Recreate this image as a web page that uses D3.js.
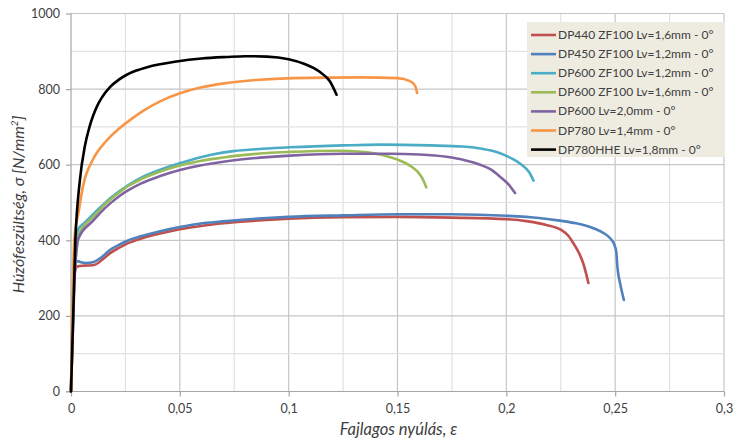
<!DOCTYPE html>
<html>
<head>
<meta charset="utf-8">
<script src="https://cdn.jsdelivr.net/npm/d3@7/dist/d3.min.js"></script>
<style>
  html, body { margin: 0; padding: 0; background: #ffffff; }
  svg { display: block; }
  text { font-family: Lato, "Open Sans", sans-serif; }
</style>
</head>
<body>
<svg id="chart" width="734" height="441"></svg>
<script>
// Tensile test curves: engineering strain vs. stress [N/mm²]
const seriesNames = [
  "DP440 ZF100 Lv=1,6mm - 0°",
  "DP450 ZF100 Lv=1,2mm - 0°",
  "DP600 ZF100 Lv=1,2mm - 0°",
  "DP600 ZF100 Lv=1,6mm - 0°",
  "DP600 Lv=2,0mm - 0°",
  "DP780 Lv=1,4mm - 0°",
  "DP780HHE Lv=1,8mm - 0°"
];
const seriesColors = ["#c0504d", "#4f81bd", "#4bacc6", "#9bbb59", "#8064a2", "#f79646", "#000000"];

const dp440Strain = [0, 0.0015, 0.003, 0.006, 0.010, 0.0125, 0.015, 0.018, 0.022, 0.026, 0.033, 0.041, 0.050, 0.059, 0.070, 0.080, 0.090, 0.100, 0.125, 0.150, 0.175, 0.200, 0.210, 0.218, 0.225, 0.2285, 0.2307, 0.2335, 0.2354, 0.2377];
const dp440Stress = [0, 310, 331, 333, 334, 340, 352, 366, 380, 392, 406, 418, 429, 437, 445, 450, 454, 457, 461, 462, 460, 456, 450, 441, 428, 412, 393, 365, 338, 287];

const dp450Strain = [0, 0.0015, 0.003, 0.0045, 0.007, 0.010, 0.0125, 0.015, 0.018, 0.022, 0.026, 0.033, 0.041, 0.050, 0.059, 0.070, 0.080, 0.090, 0.100, 0.125, 0.150, 0.175, 0.200, 0.215, 0.2246, 0.232, 0.240, 0.245, 0.2476, 0.2495, 0.2505, 0.2510, 0.2525, 0.254];
const dp450Stress = [0, 320, 345, 342, 340, 342, 349, 360, 375, 388, 399, 412, 424, 435, 444, 450, 455, 459, 462, 466, 469, 469, 465, 459, 452, 445, 432, 418, 406, 390, 370, 331, 280, 242];

const dp600aStrain = [0, 0.0015, 0.0034, 0.0064, 0.010, 0.014, 0.018, 0.022, 0.026, 0.032, 0.041, 0.0547, 0.065, 0.0746, 0.088, 0.1006, 0.125, 0.142, 0.165, 0.180, 0.188, 0.194, 0.199, 0.203, 0.207, 0.2105, 0.2125];
const dp600aStress = [0, 300, 430, 447, 468, 490, 511, 529, 545, 565, 587, 612, 627, 636, 642, 646, 651, 653, 651, 648, 643, 636, 626, 615, 600, 580, 558];

const dp600bStrain = [0, 0.0015, 0.004, 0.0102, 0.014, 0.0179, 0.022, 0.0256, 0.032, 0.041, 0.050, 0.0593, 0.070, 0.080, 0.090, 0.1006, 0.1236, 0.132, 0.137, 0.142, 0.147, 0.151, 0.155, 0.159, 0.1615, 0.1632];
const dp600bStress = [0, 300, 420, 462, 486, 507, 526, 541, 561, 582, 598, 610, 619, 626, 631, 634, 637, 635, 632, 627, 619, 611, 600, 583, 563, 540];

const dp600cStrain = [0, 0.0015, 0.0034, 0.0102, 0.014, 0.0179, 0.022, 0.0256, 0.032, 0.041, 0.050, 0.0593, 0.070, 0.080, 0.090, 0.1006, 0.125, 0.1466, 0.160, 0.1725, 0.181, 0.188, 0.193, 0.197, 0.201, 0.204];
const dp600cStress = [0, 280, 405, 452, 476, 497, 516, 530, 550, 570, 586, 598, 608, 615, 620, 624, 629, 629, 627, 621, 612, 600, 587, 569, 548, 525];

const dp780Strain = [0, 0.0015, 0.0034, 0.0057, 0.0102, 0.0164, 0.022, 0.028, 0.0333, 0.040, 0.050, 0.060, 0.0715, 0.085, 0.102, 0.133, 0.150, 0.1557, 0.158, 0.159];
const dp780Stress = [0, 400, 472, 548, 615, 664, 695, 722, 743, 765, 789, 805, 816, 824, 829, 831, 829, 821, 810, 790];

const dp780hheStrain = [0, 0.002, 0.0041, 0.0064, 0.0085, 0.0102, 0.012, 0.014, 0.0179, 0.022, 0.0256, 0.030, 0.035, 0.0485, 0.060, 0.0715, 0.080, 0.090, 0.100, 0.107, 0.1144, 0.119, 0.122];
const dp780hheStress = [0, 400, 560, 650, 700, 730, 755, 776, 805, 825, 838, 849, 858, 873, 881, 885, 887, 886, 879, 867, 845, 820, 785];

const strainSeries = [dp440Strain, dp450Strain, dp600aStrain, dp600bStrain, dp600cStrain, dp780Strain, dp780hheStrain];
const stressSeries = [dp440Stress, dp450Stress, dp600aStress, dp600bStress, dp600cStress, dp780Stress, dp780hheStress];

const xTickValues = [0, 0.05, 0.1, 0.15, 0.2, 0.25, 0.3];
const xTickLabels = ["0", "0,05", "0,1", "0,15", "0,2", "0,25", "0,3"];
const yTickValues = [0, 200, 400, 600, 800, 1000];

const xTitle = "Fajlagos nyúlás, ε";

// layout
const plot = { left: 71, right: 724, top: 13.5, bottom: 391.5 };

const svg = d3.select("#chart");
const x = d3.scaleLinear().domain([0, 0.3]).range([plot.left, plot.right]);
const y = d3.scaleLinear().domain([0, 1000]).range([plot.bottom, plot.top]);

// gridlines: minor every 0.025 / 100, major every 0.05 / 200
const grid = svg.append("g");
d3.range(0, 0.3001, 0.025).forEach((v, i) => {
  if (i === 0) return;
  grid.append("line")
    .attr("x1", x(v)).attr("x2", x(v))
    .attr("y1", plot.top).attr("y2", plot.bottom)
    .attr("stroke", i % 2 === 0 ? "#c6c6c6" : "#e2e2e2")
    .attr("stroke-width", 1.2);
});
d3.range(0, 1000.1, 100).forEach((v, i) => {
  if (i === 0) return;
  grid.append("line")
    .attr("x1", plot.left).attr("x2", plot.right)
    .attr("y1", y(v)).attr("y2", y(v))
    .attr("stroke", i % 2 === 0 ? "#c6c6c6" : "#e2e2e2")
    .attr("stroke-width", 1.2);
});

// axes
const xAxis = d3.axisBottom(x).tickValues(xTickValues)
  .tickFormat((d, i) => xTickLabels[i]).tickSize(5).tickPadding(8);
const yAxis = d3.axisLeft(y).tickValues(yTickValues)
  .tickFormat(d => String(d)).tickSize(5).tickPadding(6);

const gx = svg.append("g").attr("transform", `translate(0,${plot.bottom})`).call(xAxis);
const gy = svg.append("g").attr("transform", `translate(${plot.left},0)`).call(yAxis);
[gx, gy].forEach(g => {
  g.select(".domain").attr("stroke", "#a6a6a6").attr("stroke-width", 1.2);
  g.selectAll(".tick line").attr("stroke", "#a6a6a6").attr("stroke-width", 1.2);
  g.selectAll(".tick text").attr("fill", "#404040").style("font-size", "12.5px")
    .style("font-family", "Lato, 'Open Sans', sans-serif");
});
gy.select(".domain").attr("d", `M0,${plot.bottom}V${plot.top}`);
gx.select(".domain").attr("d", `M${plot.left - 5},0H${plot.right}`);

// curves
const line = d3.line()
  .x(d => x(d[0]))
  .y(d => y(d[1]))
  .curve(d3.curveMonotoneX);

const curves = svg.append("g");
strainSeries.forEach((xs, i) => {
  const pts = xs.map((s, j) => [s, stressSeries[i][j]]);
  curves.append("path")
    .datum(pts)
    .attr("d", line)
    .attr("fill", "none")
    .attr("stroke", seriesColors[i])
    .attr("stroke-width", 2.6)
    .attr("stroke-linejoin", "round")
    .attr("stroke-linecap", "round");
});

// legend
const legend = svg.append("g").attr("transform", "translate(527,22)");
legend.append("rect")
  .attr("width", 198).attr("height", 135)
  .attr("fill", "#eeece1").attr("stroke", "none");
seriesNames.forEach((name, i) => {
  const ly = 13 + i * 19.1;
  legend.append("line")
    .attr("x1", 4).attr("x2", 29).attr("y1", ly).attr("y2", ly)
    .attr("stroke", seriesColors[i]).attr("stroke-width", 2.6);
  legend.append("text")
    .attr("x", 31).attr("y", ly + 4)
    .attr("fill", "#404040")
    .style("font-size", "12px")
    .text(name);
});

// axis titles
svg.append("text")
  .attr("x", (plot.left + plot.right) / 2 + 1).attr("y", 435)
  .attr("text-anchor", "middle")
  .attr("fill", "#404040")
  .style("font-size", "16.5px").style("font-style", "italic")
  .text(xTitle);

const yt = svg.append("text")
  .attr("transform", `translate(24,${(plot.top + plot.bottom) / 2 + 2}) rotate(-90)`)
  .attr("text-anchor", "middle")
  .attr("fill", "#404040")
  .style("font-size", "16px").style("font-style", "italic");
yt.append("tspan").text("Húzófeszültség, σ [N/mm");
yt.append("tspan").attr("baseline-shift", "super").style("font-size", "10px").text("2");
yt.append("tspan").text("]");
</script>
</body>
</html>
